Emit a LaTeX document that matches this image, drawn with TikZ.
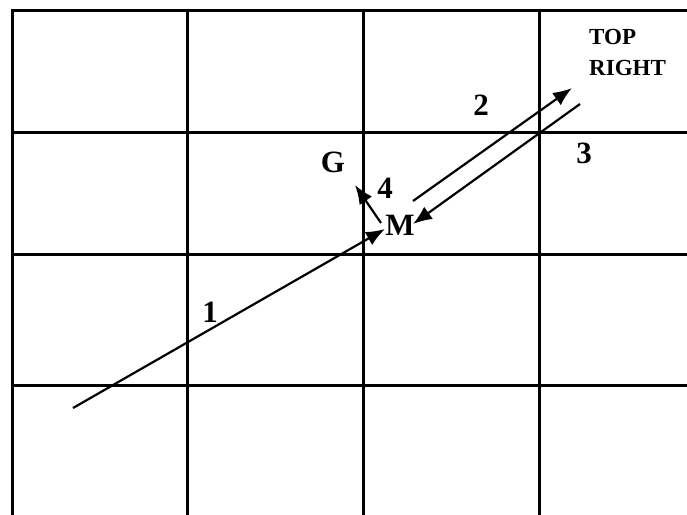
\documentclass[tikz,border=0pt]{standalone}
\usepackage{fontspec}
\setmainfont{Liberation Serif}
\usetikzlibrary{arrows.meta}
\tikzset{
  gridline/.style={line width=3pt, line cap=rect},
  mover/.style={line width=2.2pt, -{Latex[length=19pt,width=15pt]}},
  lbl/.style={font=\fontsize{31}{36}\selectfont\bfseries, inner sep=0pt},
  toplbl/.style={font=\fontsize{23}{31}\selectfont\bfseries, inner sep=0pt, align=left, anchor=north west}
}
\begin{document}
\begin{tikzpicture}[x=1pt,y=-1pt]
\useasboundingbox (0,0) rectangle (687,514);
% grid
\foreach \xx in {12,187,363,539} \draw[gridline] (\xx,10) -- (\xx,514);
\foreach \yy in {10,132,254,385} \draw[gridline] (12,\yy) -- (685,\yy);
% points
\coordinate (s1) at (73,408);
\coordinate (t1) at (385,229);
\coordinate (s2) at (413,201);
\coordinate (t2) at (572,88);
\coordinate (s3) at (580,104);
\coordinate (t3) at (413,224);
\coordinate (s4) at (381,223);
\coordinate (t4) at (355,185);
% arrows
\draw[mover] (s1) -- (t1);
\draw[mover] (s2) -- (t2);
\draw[mover] (s3) -- (t3);
\draw[mover] (s4) -- (t4);
% labels
\node[lbl] (one) at (210,312) {1};
\node[lbl] (two) at (481,105) {2};
\node[lbl] (three) at (584,153) {3};
\node[lbl] (four) at (385,188) {4};
\node[lbl] (G) at (333,162) {G};
\node[lbl] (M) at (400,225) {M};
\node[toplbl] (tr) at (589,29) {TOP\\RIGHT};
\end{tikzpicture}
\end{document}
